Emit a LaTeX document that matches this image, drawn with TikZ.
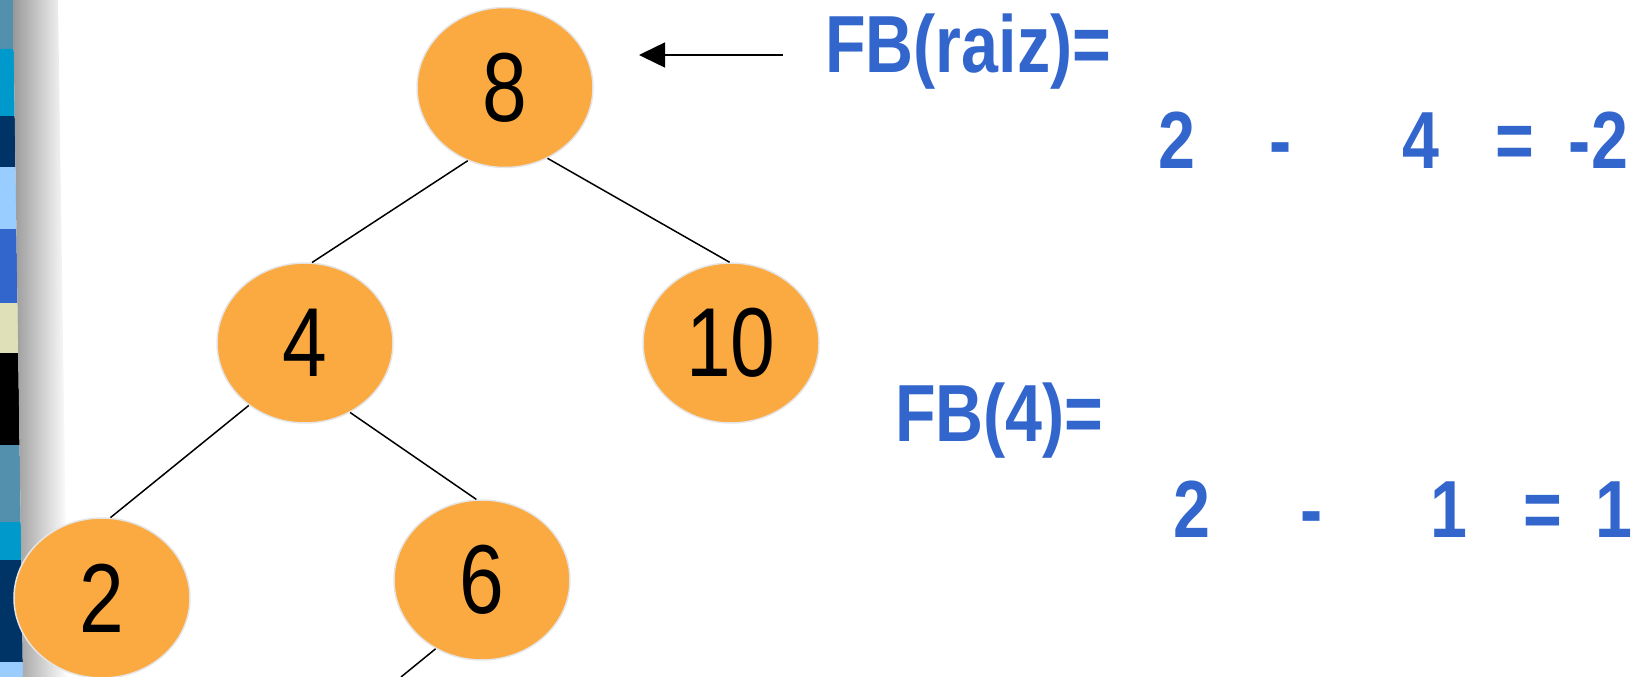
\documentclass[tikz,border=0pt]{standalone}
\usepackage{fontspec}
\usetikzlibrary{positioning}
\usetikzlibrary{shapes,arrows.meta}
\newfontfamily\narrowfont[FakeStretch=0.82]{Liberation Sans}
\definecolor{nodeorange}{HTML}{FBAA42}
\definecolor{fbblue}{HTML}{3366CC}
\definecolor{barsteel}{HTML}{5290AD}
\definecolor{barcyan}{HTML}{0099CC}
\definecolor{barnavy}{HTML}{003366}
\definecolor{barsky}{HTML}{99CCFF}
\definecolor{barroyal}{HTML}{3366CC}
\definecolor{barsand}{HTML}{DFDFB8}
\tikzset{
    treenode/.style={ellipse, fill=nodeorange, draw=black!10, line width=1.5pt,
        minimum width=176pt, minimum height=160pt, inner sep=0pt,
        font=\narrowfont\fontsize{98}{98}\selectfont},
    treeedge/.style={line width=1.5pt},
    fbtext/.style={anchor=base west, inner sep=0pt, text=fbblue,
        font=\narrowfont\bfseries\fontsize{81}{81}\selectfont}
}

\begin{document}
\begin{tikzpicture}[x=1pt,y=-1pt]
	\useasboundingbox (0,0) rectangle (1642,677);
	\clip (0,0) rectangle (1642,677);
	% side bar
	\foreach \a/\b/\c in {0/49/barsteel, 49/116/barcyan, 116/167/barnavy, 167/229/barsky,
		229/303/barroyal, 303/353/barsand, 353/445/black, 445/522/barsteel,
		522/560/barcyan, 560/662/barnavy, 662/677/barsky}
		\fill[\c] (0,\a) -- ({13+0.0148*\a},\a) -- ({13+0.0148*\b},\b) -- (0,\b) -- cycle;
	\shade[left color=black!40, right color=white] (13,0) -- (58,0) -- (68,677) -- (23,677) -- cycle;
	% tree
	\node[treenode] (n8) at (505,87.5) {8};
	\node[treenode] (n4) at (305,343) {4};
	\node[treenode] (n10) at (731,343) {10};
	\node[treenode] (n2) at (102,598) {2};
	\node[treenode] (n6) at (482,580) {6};
	\coordinate (n6down) at (401,677);
	\draw[treeedge] (n8.243) -- (n4.85);
	\draw[treeedge] (n8.301) -- (n10.91);
	\draw[treeedge] (n4.228) -- (n2.84);
	\draw[treeedge] (n4.303) -- (n6.94);
	\draw[treeedge] (n6.236) -- (n6down);
	% balance factors
	\coordinate (fbtail) at (783,55);
	\coordinate (fbtip) at (639,55);
	\draw[line width=1.5pt, -{Triangle[length=26pt,width=25pt]}] (fbtail) -- (fbtip);
	\node[fbtext] (fbroot) at (825,73) {FB(raiz)=};
	\node[fbtext] (fbrootval) at (1158,168) {2\hspace{74pt}-\hspace{111pt}4\hspace{56pt}=\hspace{35pt}-2};
	\node[fbtext] (fbfour) at (895,441) {FB(4)=};
	\node[fbtext] (fbfourval) at (1173,537) {2\hspace{90pt}-\hspace{108pt}1\hspace{56pt}=\hspace{34pt}1};
	%\draw[treeedge] (n4.south) -- (n2.north);
\end{tikzpicture}
\end{document}
